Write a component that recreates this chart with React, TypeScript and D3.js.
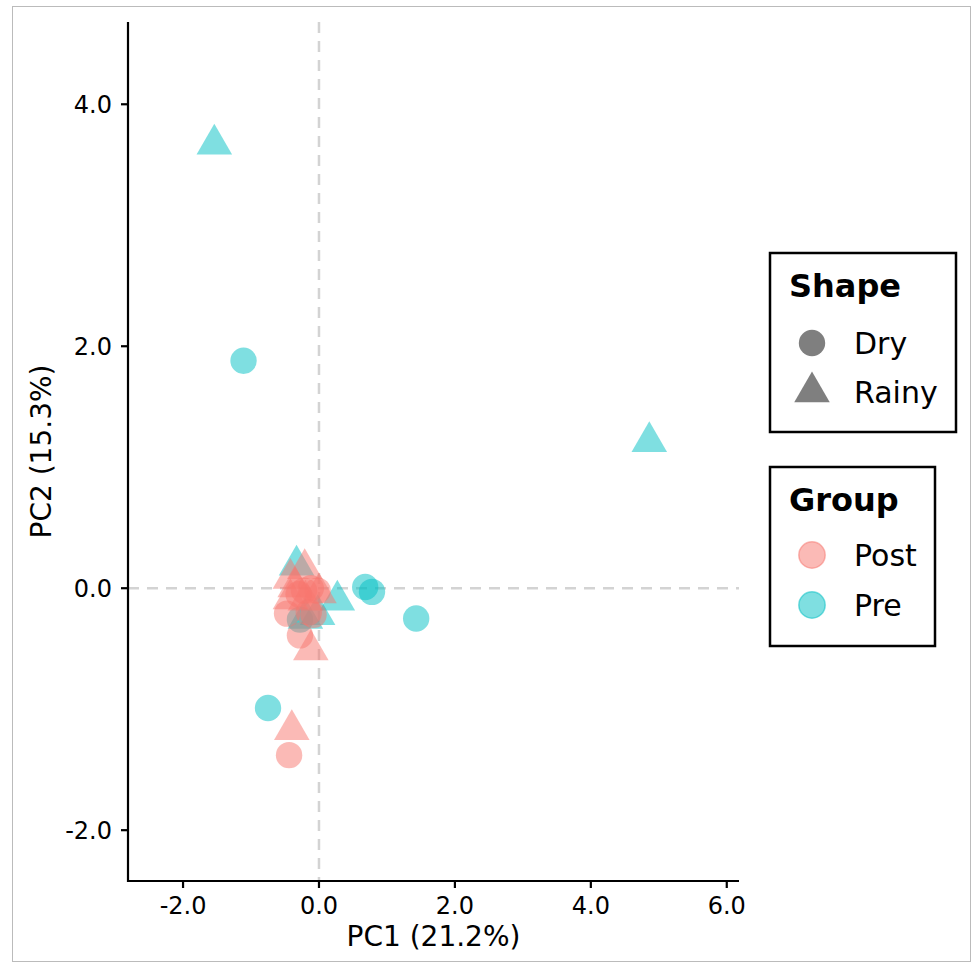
import React from "react";
import * as d3 from "d3";

const xTicks = [-2, 0, 2, 4, 6];
const yTicks = [-2, 0, 2, 4];
const groups = ["Post", "Pre"];
const shapes = ["Dry", "Rainy"];
const groupColors = ["#F8766D", "#00BFC4"];

// Pre samples
const preDryX = [-1.11, 0.68, 0.78, 1.43, -0.75, -0.28];
const preDryY = [1.88, 0.01, -0.03, -0.25, -0.99, -0.26];
const preRainyX = [-1.54, 4.86, -0.33, 0.27, -0.2, -0.02];
const preRainyY = [3.67, 1.21, 0.19, -0.1, -0.25, -0.22];
// Post samples
const postDryX = [-0.44, -0.28, -0.47, -0.22, -0.12, -0.02, -0.3, -0.15, -0.08];
const postDryY = [-1.38, -0.39, -0.21, -0.02, 0.0, -0.02, -0.05, -0.2, -0.22];
const postRainyX = [-0.4, -0.12, -0.21, -0.42, -0.42, -0.35, 0.0, -0.2];
const postRainyY = [-1.17, -0.51, 0.16, 0.08, -0.09, 0.01, -0.04, -0.1];

type Pt = { x: number; y: number; group: string; shape: string };

function build(xs: number[], ys: number[], group: string, shape: string): Pt[] {
  return xs.map((x, i) => ({ x, y: ys[i], group, shape }));
}

const points: Pt[] = [
  ...build(preDryX, preDryY, "Pre", "Dry"),
  ...build(preRainyX, preRainyY, "Pre", "Rainy"),
  ...build(postDryX, postDryY, "Post", "Dry"),
  ...build(postRainyX, postRainyY, "Post", "Rainy"),
];

const FONT = "DejaVu Sans, sans-serif";
const R = 13.2;
const TR = R * 1.555;

function triPath(cx: number, cy: number, r: number) {
  const xc = (r * Math.sqrt(3)) / 2;
  return `M${cx},${cy - r}L${cx + xc},${cy + r / 2}L${cx - xc},${cy + r / 2}Z`;
}

function Marker({ cx, cy, shape, color }: { cx: number; cy: number; shape: string; color: string }) {
  if (shape === "Dry") {
    return <circle cx={cx} cy={cy} r={R} fill={color} fillOpacity={0.5} />;
  }
  return <path d={triPath(cx, cy, TR)} fill={color} fillOpacity={0.5} />;
}

export default function App() {
  const left = 128, right = 739, top = 22, bottom = 881;
  const x = d3.scaleLinear().domain([-2.81, 6.18]).range([left, right]);
  const y = d3.scaleLinear().domain([-2.42, 4.68]).range([bottom, top]);
  const color = d3.scaleOrdinal<string, string>().domain(groups).range(groupColors);
  const fmt = (v: number) => v.toFixed(1);

  return (
    <svg width={972} height={962} style={{ position: "absolute", left: 0, top: 0, background: "#fff" }} fontFamily={FONT}>
      <rect x={12.5} y={6.5} width={958} height={955} fill="none" stroke="#bbbbbb" strokeWidth={1} />
      {/* reference lines */}
      <line x1={x(0)} x2={x(0)} y1={top} y2={bottom} stroke="#d3d3d3" strokeWidth={2.5} strokeDasharray="11,8" />
      <line x1={left} x2={right} y1={y(0)} y2={y(0)} stroke="#d3d3d3" strokeWidth={2.5} strokeDasharray="11,8" />
      {/* points */}
      {points.map((p, i) => (
        <Marker key={i} cx={x(p.x)} cy={y(p.y)} shape={p.shape} color={color(p.group)} />
      ))}
      {/* axes */}
      <line x1={left} x2={left} y1={top} y2={bottom + 1} stroke="#000" strokeWidth={2.2} />
      <line x1={left - 1} x2={right} y1={bottom} y2={bottom} stroke="#000" strokeWidth={2.2} />
      {yTicks.map((t) => (
        <g key={"y" + t}>
          <line x1={left - 7} x2={left} y1={y(t)} y2={y(t)} stroke="#000" strokeWidth={2.2} />
          <text x={112} y={y(t)} dy="0.36em" textAnchor="end" fontSize={24} fill="#000">
            {fmt(t)}
          </text>
        </g>
      ))}
      {xTicks.map((t) => (
        <g key={"x" + t}>
          <line x1={x(t)} x2={x(t)} y1={bottom} y2={bottom + 7} stroke="#000" strokeWidth={2.2} />
          <text x={x(t)} y={914} textAnchor="middle" fontSize={24} fill="#000">
            {fmt(t)}
          </text>
        </g>
      ))}
      <text x={(left + right) / 2} y={946} textAnchor="middle" fontSize={28} fill="#000">
        PC1 (21.2%)
      </text>
      <text transform={`translate(51,${(top + bottom) / 2}) rotate(-90)`} textAnchor="middle" fontSize={28} fill="#000">
        PC2 (15.3%)
      </text>
      {/* Legend: Shape */}
      <rect x={770} y={253} width={186} height={179} fill="#fff" stroke="#000" strokeWidth={2.5} />
      <text x={789} y={297} fontSize={32} fontWeight="bold" fill="#000">Shape</text>
      {shapes.map((s, i) => (
        <g key={s}>
          {s === "Dry" ? (
            <circle cx={812} cy={343 + i * 49} r={R} fill="#000" fillOpacity={0.5} />
          ) : (
            <path d={triPath(812, 343 + i * 49, TR)} fill="#000" fillOpacity={0.5} />
          )}
          <text x={854} y={343 + i * 49} dy="0.36em" fontSize={30} fill="#000">{s}</text>
        </g>
      ))}
      {/* Legend: Group */}
      <rect x={770} y={467} width={165} height={179} fill="#fff" stroke="#000" strokeWidth={2.5} />
      <text x={789} y={511} fontSize={32} fontWeight="bold" fill="#000">Group</text>
      {groups.map((g, i) => (
        <g key={g}>
          <circle cx={812} cy={555 + i * 50} r={R} fill={color(g)} fillOpacity={0.5} stroke={color(g)} strokeOpacity={0.5} strokeWidth={1.5} />
          <text x={854} y={555 + i * 50} dy="0.36em" fontSize={30} fill="#000">{g}</text>
        </g>
      ))}
    </svg>
  );
}
